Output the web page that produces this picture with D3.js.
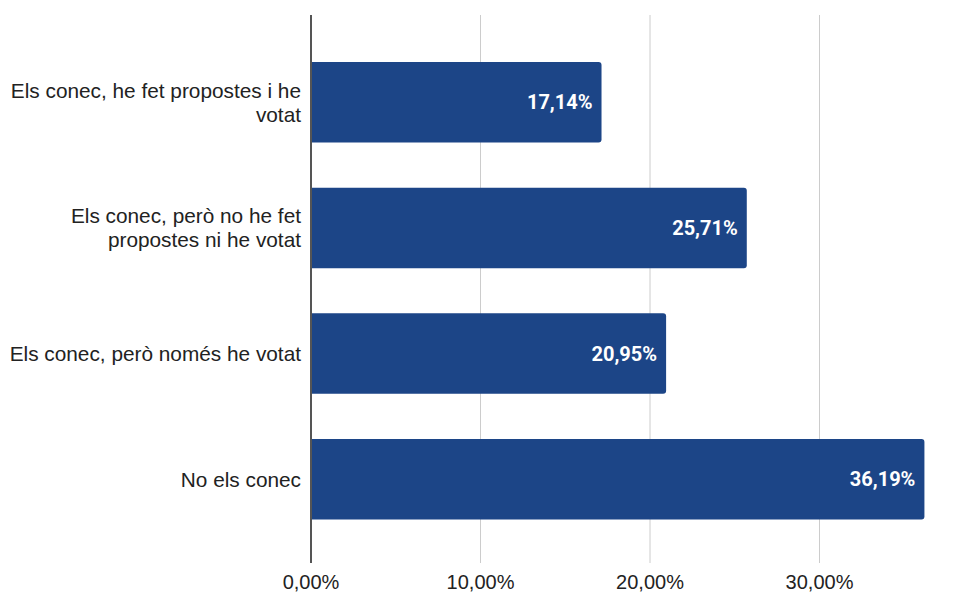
<!DOCTYPE html>
<html>
<head>
<meta charset="utf-8">
<script src="https://cdn.jsdelivr.net/npm/d3@7"></script>
<style>
  body { margin: 0; background: #fff; }
  svg { display: block; }
</style>
</head>
<body>
<svg width="976" height="593"></svg>
<script>
// answers and shares (fractions)
var categories = [
	"Els conec, he fet propostes i he votat",
	"Els conec, però no he fet propostes ni he votat",
	"Els conec, però només he votat",
	"No els conec"
];
var values = [0.1714, 0.2571, 0.2095, 0.3619];
var tickValues = [0, 0.1, 0.2, 0.3];

var svg = d3.select("svg");
var plotLeft = 311, plotTop = 15, plotBottom = 563;

var x = d3.scaleLinear().domain([0, 0.4]).range([plotLeft, plotLeft + 4 * 169.5]);
var y = d3.scaleBand().domain(categories).range([15.5, 566])
	.paddingInner(0.36).paddingOuter(0.37);

var fmt = function(v) { return (v * 100).toFixed(2).replace(".", ",") + "%"; };

// grid lines
svg.append("g").selectAll("line")
	.data(tickValues.filter(function(d) { return d > 0; }))
	.enter().append("line")
	.attr("x1", function(d) { return x(d); })
	.attr("x2", function(d) { return x(d); })
	.attr("y1", plotTop).attr("y2", plotBottom)
	.style("stroke", "#cccccc").style("stroke-width", 1);

// bars, rounded on the right end only
function barPath(x0, x1, y0, h, r) {
	return "M" + x0 + "," + y0 +
		"H" + (x1 - r) +
		"Q" + x1 + "," + y0 + " " + x1 + "," + (y0 + r) +
		"V" + (y0 + h - r) +
		"Q" + x1 + "," + (y0 + h) + " " + (x1 - r) + "," + (y0 + h) +
		"H" + x0 + "Z";
}

svg.append("g").selectAll("path")
	.data(values)
	.enter().append("path")
	.attr("d", function(d, i) { return barPath(x(0), x(d), y(categories[i]), y.bandwidth(), 3); })
	.style("fill", "#1c4587");

// value labels inside bars
svg.append("g").selectAll("text")
	.data(values)
	.enter().append("text")
	.attr("x", function(d) { return x(d) - 9; })
	.attr("y", function(d, i) { return y(categories[i]) + y.bandwidth() / 2; })
	.attr("dy", "0.36em")
	.attr("text-anchor", "end")
	.style("font-family", "Roboto, sans-serif")
	.style("font-weight", "bold")
	.style("font-size", "20px")
	.style("fill", "#ffffff")
	.text(fmt);

// axis line
svg.append("line")
	.attr("x1", x(0)).attr("x2", x(0))
	.attr("y1", plotTop).attr("y2", plotBottom)
	.style("stroke", "#555555").style("stroke-width", 2);

// x tick labels
svg.append("g").selectAll("text")
	.data(tickValues)
	.enter().append("text")
	.attr("x", function(d) { return x(d); })
	.attr("y", 589)
	.attr("text-anchor", "middle")
	.style("font-family", "'Liberation Sans', Arial, sans-serif")
	.style("font-size", "20px")
	.style("fill", "#222222")
	.text(fmt);

// category labels, wrapped to fit left of the axis
var labels = svg.append("g").selectAll("text")
	.data(categories)
	.enter().append("text")
	.attr("text-anchor", "end")
	.style("font-family", "'Liberation Sans', Arial, sans-serif")
	.style("font-size", "20.8px")
	.style("fill", "#222222");

labels.each(function(d) {
	var t = d3.select(this);
	var words = d.split(" ");
	var lines = [], cur = [];
	var probe = t.append("tspan");
	words.forEach(function(w) {
		probe.text(cur.concat([w]).join(" "));
		if (probe.node().getComputedTextLength() > 296 && cur.length) {
			lines.push(cur.join(" "));
			cur = [w];
		} else {
			cur.push(w);
		}
	});
	lines.push(cur.join(" "));
	probe.remove();
	var cy = y(d) + y.bandwidth() / 2;
	var lh = 24;
	lines.forEach(function(l, i) {
		t.append("tspan")
			.attr("x", 301)
			.attr("y", cy + (i - (lines.length - 1) / 2) * lh)
			.attr("dy", "0.36em")
			.text(l);
	});
});
</script>
</body>
</html>
